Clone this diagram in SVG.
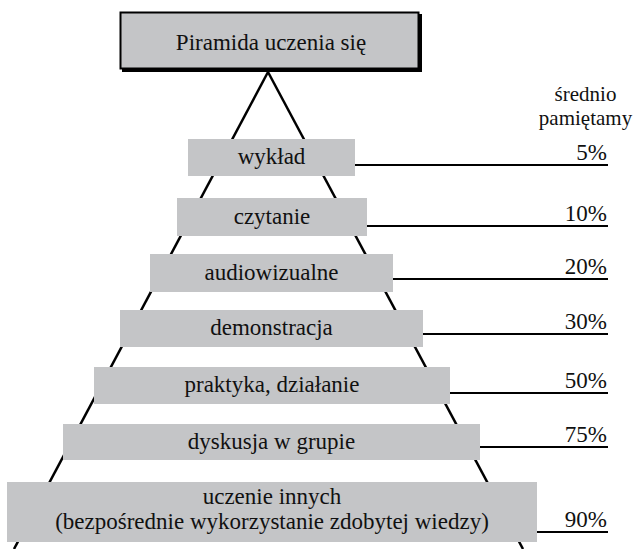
<svg xmlns="http://www.w3.org/2000/svg" width="637" height="549" viewBox="0 0 637 549">
<style>
  .t { font-family: "Liberation Serif", "Times New Roman", serif; font-size: 23px; fill: #111; }
  .h { font-size: 21px; }
  .c { text-anchor: middle; }
  .e { text-anchor: end; }
  .box { fill: #c4c5c7; }
  .ln { stroke: #000; stroke-width: 2.5; fill: none; }
  .rl { stroke: #000; stroke-width: 2.2; }
</style>
<rect width="637" height="549" fill="#fff"/>
<g id="pyramid-lines">
  <line class="ln" x1="268" y1="72" x2="14" y2="549"/>
  <line class="ln" x1="268" y1="72" x2="523" y2="549"/>
</g>
<g id="title">
  <rect x="122" y="14" width="300" height="58" fill="#000"/>
  <rect x="120.5" y="12.5" width="298" height="56" fill="#c4c5c7" stroke="#000" stroke-width="2"/>
  <text class="t c" x="271" y="50">Piramida uczenia się</text>
</g>
<g id="header">
  <text class="t h c" x="585.5" y="101">średnio</text>
  <text class="t h c" x="585.5" y="125">pamiętamy</text>
</g>
<g id="connectors">
  <line class="rl" x1="355" y1="165" x2="608" y2="165"/>
  <line class="rl" x1="367" y1="226" x2="608" y2="226"/>
  <line class="rl" x1="393" y1="279" x2="608" y2="279"/>
  <line class="rl" x1="423" y1="334" x2="608" y2="334"/>
  <line class="rl" x1="450" y1="393" x2="608" y2="393"/>
  <line class="rl" x1="480" y1="447" x2="608" y2="447"/>
  <line class="rl" x1="537" y1="532" x2="608" y2="532"/>
</g>
<g id="level1">
  <rect class="box" x="188" y="139" width="167" height="37"/>
  <text class="t c" x="271.5" y="164">wykład</text>
  <text class="t e" x="607" y="160">5%</text>
</g>
<g id="level2">
  <rect class="box" x="177" y="198" width="190" height="38"/>
  <text class="t c" x="272" y="224">czytanie</text>
  <text class="t e" x="607" y="221">10%</text>
</g>
<g id="level3">
  <rect class="box" x="150" y="254" width="243" height="38"/>
  <text class="t c" x="271.5" y="280">audiowizualne</text>
  <text class="t e" x="607" y="274">20%</text>
</g>
<g id="level4">
  <rect class="box" x="120" y="310" width="303" height="37"/>
  <text class="t c" x="271.5" y="335">demonstracja</text>
  <text class="t e" x="607" y="329">30%</text>
</g>
<g id="level5">
  <rect class="box" x="94" y="367" width="356" height="37"/>
  <text class="t c" x="272" y="392">praktyka, działanie</text>
  <text class="t e" x="607" y="388">50%</text>
</g>
<g id="level6">
  <rect class="box" x="63" y="424" width="417" height="36"/>
  <text class="t c" x="271.5" y="449">dyskusja w grupie</text>
  <text class="t e" x="607" y="442">75%</text>
</g>
<g id="level7">
  <rect class="box" x="7" y="482" width="530" height="60"/>
  <text class="t c" x="272" y="504">uczenie innych</text>
  <text class="t c" x="272" y="529">(bezpośrednie wykorzystanie zdobytej wiedzy)</text>
  <text class="t e" x="607" y="527">90%</text>
</g>
</svg>
